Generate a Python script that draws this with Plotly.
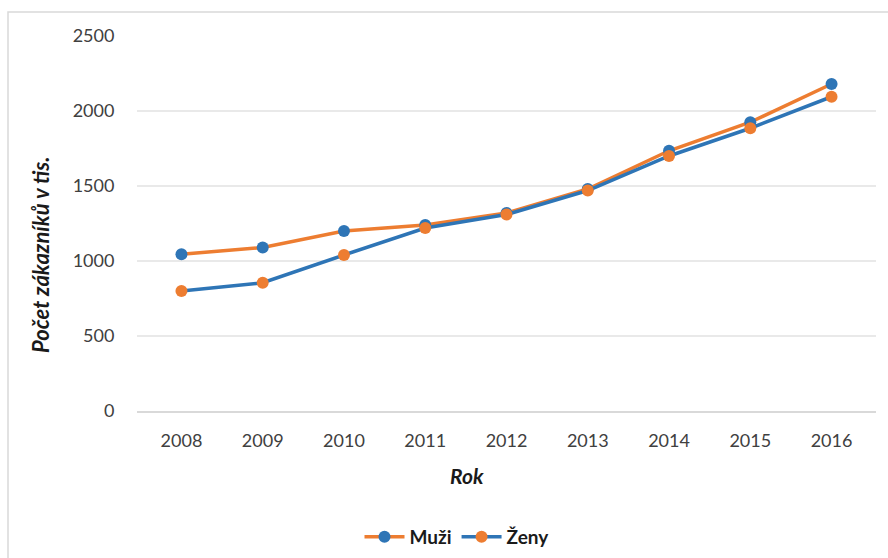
import plotly.graph_objects as go

# Customer counts (thousands) by year
roky = ["2008", "2009", "2010", "2011", "2012", "2013", "2014", "2015", "2016"]
muzi = [1045, 1090, 1200, 1240, 1320, 1480, 1735, 1925, 2180]
zeny = [800, 855, 1040, 1220, 1310, 1470, 1700, 1885, 2095]

y_ticks = [0, 500, 1000, 1500, 2000, 2500]

BLUE = "#2e75b6"
ORANGE = "#ed7d31"
FONT = "Lato, Open Sans, sans-serif"

# plot area in pixels
L, R, T, B = 137, 876, 36, 411
W, H = R - L, B - T


def px_x(p):
    return (p - L) / W


def px_y(p):
    return (B - p) / H


fig = go.Figure()
fig.add_trace(go.Scatter(
    x=roky, y=muzi, name="Muži", mode="lines+markers",
    line=dict(color=ORANGE, width=3.5),
    marker=dict(color=BLUE, size=12),
))
fig.add_trace(go.Scatter(
    x=roky, y=zeny, name="Ženy", mode="lines+markers",
    line=dict(color=BLUE, width=3.5),
    marker=dict(color=ORANGE, size=12),
))

# outer chart frame
fig.add_shape(type="rect", xref="paper", yref="paper",
              x0=px_x(8), x1=px_x(900), y0=px_y(570), y1=px_y(12),
              line=dict(color="#d9d9d9", width=1.5), fillcolor="rgba(0,0,0,0)",
              layer="below")

# axis titles
fig.add_annotation(text="<b><i>Počet zákazníků v tis.</i></b>",
                   xref="paper", yref="paper", x=px_x(40), y=px_y(255),
                   xanchor="center", yanchor="middle",
                   showarrow=False, textangle=-90,
                   font=dict(family=FONT, size=22, color="#1a1a1a"))
fig.add_annotation(text="<b><i>Rok</i></b>",
                   xref="paper", yref="paper", x=px_x(467), y=px_y(475),
                   xanchor="center", yanchor="middle", showarrow=False,
                   font=dict(family=FONT, size=21, color="#1a1a1a"))

fig.update_layout(
    width=888, height=558,
    margin=dict(l=L, r=888 - R, t=T, b=558 - B, autoexpand=False),
    paper_bgcolor="white", plot_bgcolor="white",
    font=dict(family=FONT, color="#595959"),
    showlegend=True,
    legend=dict(orientation="h", x=px_x(457), xanchor="center",
                yref="container", y=(558 - 537) / 558, yanchor="middle",
                font=dict(family=FONT, size=19, color="#1a1a1a", weight="bold"),
                itemwidth=40, traceorder="normal"),
    xaxis=dict(
        type="category", automargin=False,
        showgrid=False, showline=True, linecolor="#d9d9d9", linewidth=1.5,
        ticks="outside", ticklen=13, tickcolor="rgba(0,0,0,0)",
        tickfont=dict(family=FONT, size=18, color="#404040"),
    ),
    yaxis=dict(
        range=[0, 2500], tickvals=y_ticks, automargin=False,
        showgrid=True, gridcolor="#e9e9e9", gridwidth=1.5,
        zeroline=False,
        ticks="outside", ticklen=18, tickcolor="rgba(0,0,0,0)",
        tickfont=dict(family=FONT, size=18, color="#404040"),
    ),
)

fig.write_html("out.html")
